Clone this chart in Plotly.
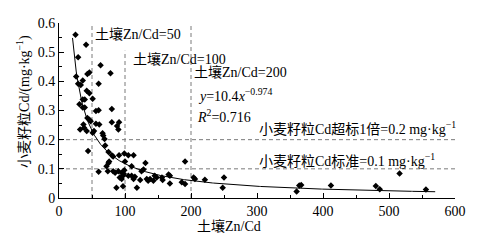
import plotly.graph_objects as go
import numpy as np

# Scatter data: soil Zn/Cd ratio vs wheat grain Cd (mg/kg)
zn_cd = [25, 41, 29, 63, 78, 26, 43, 46, 36, 29, 33, 60, 42, 46, 39, 36, 51, 31, 36, 39, 60, 56, 80,
         43, 46, 48, 37, 38, 56, 61, 80, 91, 88, 90, 32, 42, 51, 53, 66, 67, 69, 44, 70, 75, 80, 82,
         91, 99, 105, 76, 75, 72, 60, 74, 82, 85, 90, 95, 92, 95, 97, 98, 87, 97, 99,
         113, 100, 131, 110, 128, 125, 105, 110, 113, 115, 123, 118, 133, 135, 138, 143, 145, 148,
         156, 157, 166, 168, 168, 186, 191, 191,
         204, 206, 221, 250, 248, 360, 364, 367, 412, 480, 486, 516, 556]
grain_cd = [0.560, 0.525, 0.483, 0.455, 0.428, 0.417, 0.425, 0.430, 0.403, 0.392, 0.387, 0.392, 0.368,
            0.359, 0.338, 0.338, 0.340, 0.321, 0.310, 0.310, 0.301, 0.298, 0.305,
            0.274, 0.268, 0.263, 0.252, 0.241, 0.255, 0.252, 0.260, 0.260, 0.247, 0.235, 0.235, 0.230,
            0.224, 0.230, 0.222, 0.214, 0.202, 0.161, 0.180, 0.158, 0.147, 0.142,
            0.147, 0.153, 0.147, 0.125, 0.120, 0.109, 0.090, 0.092, 0.092, 0.087, 0.092, 0.087, 0.070,
            0.065, 0.076, 0.083, 0.035, 0.040, 0.095,
            0.147, 0.125, 0.120, 0.109, 0.098, 0.092, 0.076, 0.076, 0.065, 0.073, 0.062, 0.035, 0.065,
            0.059, 0.065, 0.059, 0.076, 0.070,
            0.070, 0.062, 0.081, 0.076, 0.050, 0.054, 0.048, 0.125,
            0.070, 0.065, 0.063, 0.070, 0.035, 0.022, 0.043, 0.045, 0.043, 0.041, 0.030, 0.084, 0.029]

# Fitted power model shown on the chart: y = 10.4 x^-0.974
fit_a = 10.4
fit_b = -0.974
fit_range = [20.5, 570]

# Reference thresholds
zn_cd_lines = [50, 100, 200]
cd_lines = [0.1, 0.2]

x_ticks = [0, 100, 200, 300, 400, 500, 600]
y_ticks = [0, 0.1, 0.2, 0.3, 0.4, 0.5, 0.6]
y_tick_text = ["0", "0.1", "0.2", "0.3", "0.4", "0.5", "0.6"]

FONT = "Liberation Serif, Times New Roman, Noto Sans CJK SC, serif"

fx = np.linspace(fit_range[0], fit_range[1], 400)
fy = fit_a * fx ** fit_b

fig = go.Figure()
fig.add_trace(go.Scatter(x=fx, y=fy, mode="lines", line=dict(color="black", width=1),
                         showlegend=False, hoverinfo="skip"))
fig.add_trace(go.Scatter(x=zn_cd, y=grain_cd, mode="markers",
                         marker=dict(symbol="diamond", size=5, color="black"),
                         showlegend=False))

dash_style = dict(color="#7a7a7a", width=1, dash="4px,3px")
tops = {50: 0.6, 100: 0.505, 200: 0.6}
for v in zn_cd_lines:
    fig.add_shape(type="line", x0=v, x1=v, y0=0, y1=tops[v], xref="x", yref="y", line=dash_style, layer="below")
for v in cd_lines:
    fig.add_shape(type="line", x0=0, x1=600, y0=v, y1=v, xref="x", yref="y", line=dash_style, layer="below")

ann_font = dict(family=FONT, size=14, color="black")
labels = [
    (51.5, 0.564, "土壤Zn/Cd=50"),
    (109, 0.478, "土壤Zn/Cd=100"),
    (201.5, 0.432, "土壤Zn/Cd=200"),
    (207, 0.353, "<i>y</i>=10.4<i>x</i><sup>−0.974</sup>"),
    (206, 0.280, "<i>R</i><sup>2</sup>=0.716"),
    (300, 0.241, "小麦籽粒Cd超标1倍=0.2 mg·kg<sup>−1</sup>"),
    (300, 0.129, "小麦籽粒Cd标准=0.1 mg·kg<sup>−1</sup>"),
]
for x, y, t in labels:
    fig.add_annotation(x=x, y=y, xref="x", yref="y", text=t, showarrow=False,
                       xanchor="left", yanchor="middle", font=ann_font)

# Axis titles
fig.add_annotation(x=258, y=-0.16, xref="x", yref="paper", text="土壤Zn/Cd", showarrow=False,
                   xanchor="center", yanchor="middle", font=ann_font)
fig.add_annotation(xref="paper", yref="paper", x=-0.088, y=0.55, text="小麦籽粒Cd/(mg·kg<sup>−1</sup>)",
                   textangle=-90, showarrow=False, xanchor="center", yanchor="middle", font=ann_font)

# page body has an 8px margin, so the figure is sized to fill the rest of the window
fig.update_layout(
    width=470, height=237,
    margin=dict(l=51, r=23, t=8, b=47),
    paper_bgcolor="white", plot_bgcolor="white",
    font=dict(family=FONT, size=14, color="black"),
)
fig.update_xaxes(range=[0, 600], tickvals=x_ticks, ticktext=[str(v) for v in x_ticks],
                 showline=True, linecolor="black", linewidth=1, ticks="inside", ticklen=5,
                 tickcolor="black", showgrid=False, zeroline=False,
                 minor=dict(ticks="inside", ticklen=3, tickcolor="black", dtick=50, showgrid=False),
                 tickfont=dict(family=FONT, size=14))
fig.update_yaxes(range=[0, 0.6], tickvals=y_ticks, ticktext=y_tick_text,
                 showline=True, linecolor="black", linewidth=1, ticks="inside", ticklen=5,
                 tickcolor="black", showgrid=False, zeroline=False,
                 minor=dict(ticks="inside", ticklen=3, tickcolor="black", dtick=0.05, showgrid=False),
                 tickfont=dict(family=FONT, size=14))

fig.write_html("out.html")
